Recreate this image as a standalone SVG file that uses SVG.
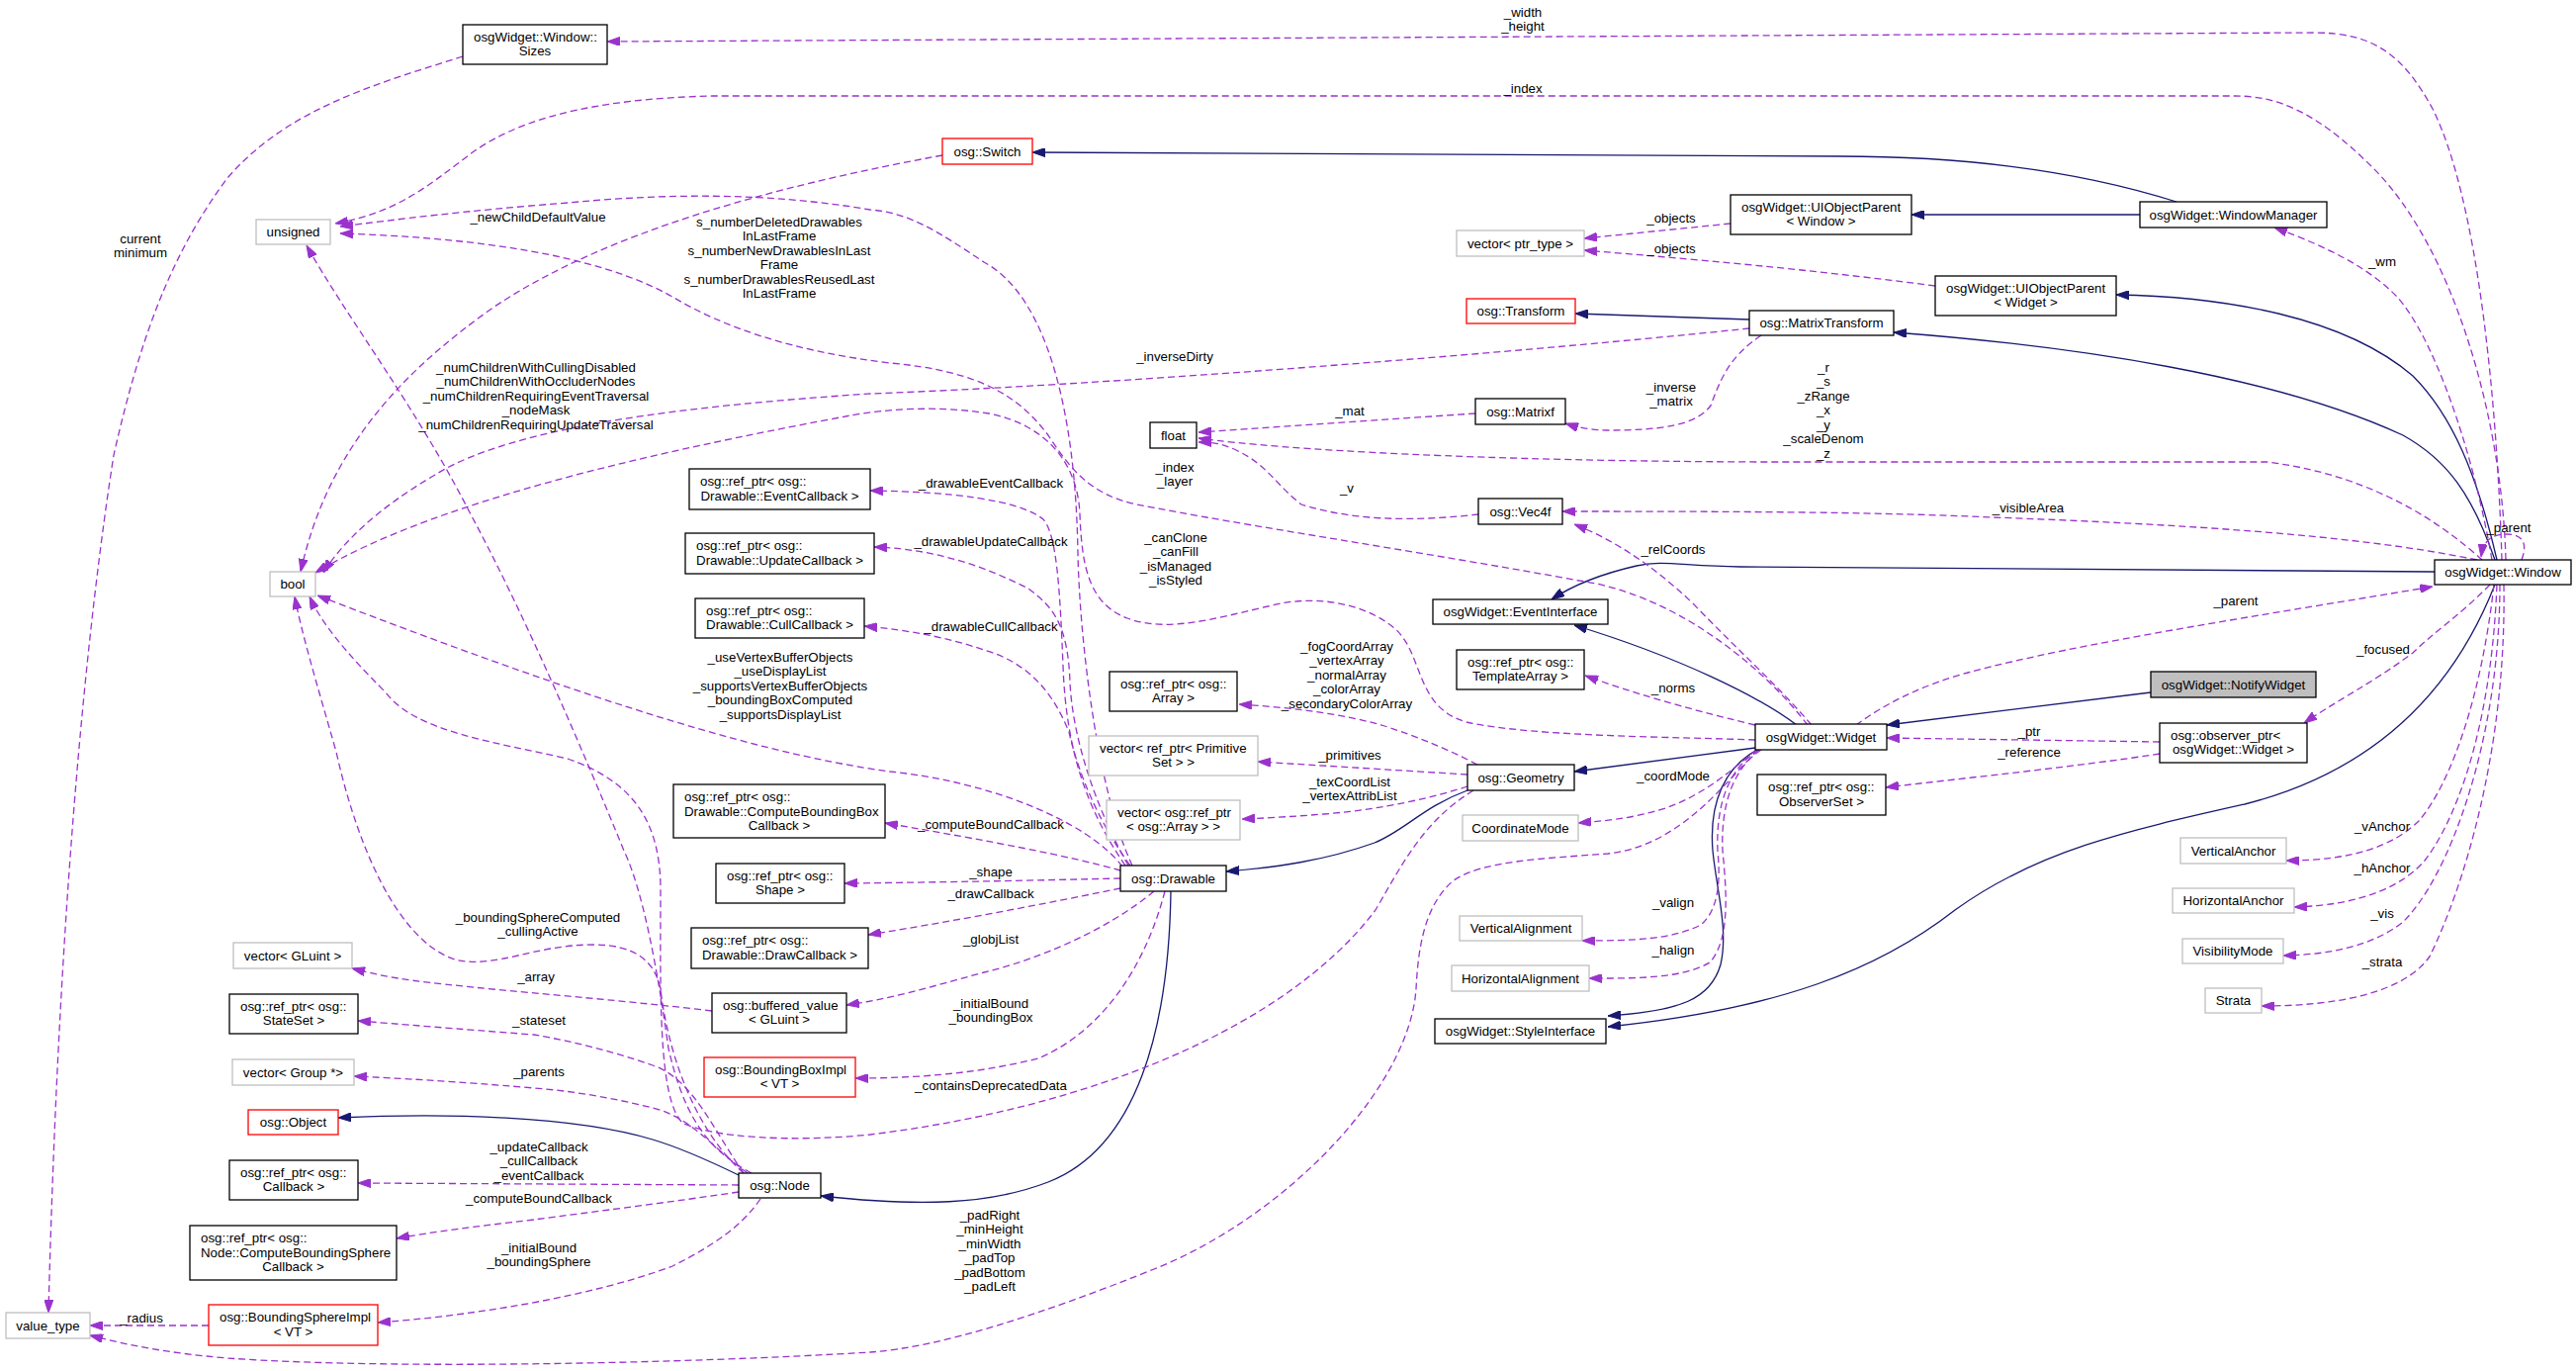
<svg xmlns="http://www.w3.org/2000/svg" width="2605" height="1386" viewBox="0 0 2605 1386">
<style>
text{font-family:"Liberation Sans",Arial,Helvetica,sans-serif;font-size:13.3px;fill:#000}
.c{text-anchor:middle}
.n rect{fill:#fff;stroke:#000;stroke-width:1.3}
.g rect{stroke:#bfbfbf}
.r rect{stroke:#ff0000}
.f rect{fill:#bfbfbf}
#edges .e{fill:none;stroke:#9a32cd;stroke-width:1.3;stroke-dasharray:7,4;marker-end:url(#ap)}
#edges .i{fill:none;stroke:#191970;stroke-width:1.3;marker-end:url(#an)}
</style>
<defs>
<marker id="ap" viewBox="0 0 13 9" refX="13" refY="4.5" markerWidth="13" markerHeight="9" markerUnits="userSpaceOnUse" orient="auto"><path d="M0,0 L13,4.5 L0,9 z" fill="#9a32cd" stroke="#9a32cd" stroke-width="1"/></marker>
<marker id="an" viewBox="0 0 13 9" refX="13" refY="4.5" markerWidth="13" markerHeight="9" markerUnits="userSpaceOnUse" orient="auto"><path d="M0,0 L13,4.5 L0,9 z" fill="#191970" stroke="#191970" stroke-width="1"/></marker>
</defs>
<rect x="0" y="0" width="2605" height="1386" fill="#fff"/>
<g id="edges">
<path class="i" d="M2201,204 C2100,172 1980,158 1860,158 L1044,154"/>
<path class="i" d="M2164,217 L1933,217"/>
<path class="i" d="M2525,566 C2505,480 2480,420 2440,380 C2370,320 2250,300 2140,298"/>
<path class="i" d="M2523,566 C2500,500 2475,465 2430,440 C2300,380 2100,350 1915,336"/>
<path class="i" d="M1769,323 L1593,317"/>
<path class="i" d="M2462,578 L1760,573 C1700,572 1680,566 1655,572 C1620,580 1590,592 1569,606"/>
<path class="i" d="M1817,733 C1780,705 1700,665 1592,632"/>
<path class="i" d="M2175,700 L1908,733"/>
<path class="i" d="M1777,758 C1745,775 1728,810 1732,860 C1736,900 1748,940 1740,975 C1730,1010 1700,1022 1626,1027"/>
<path class="i" d="M2523,591 C2480,700 2400,780 2270,813 C2150,840 2060,860 1977,920 C1900,980 1800,1020 1626,1038"/>
<path class="i" d="M1484,799 C1440,815 1420,840 1390,852 C1340,870 1290,877 1240,881"/>
<path class="i" d="M1775,756 L1592,780"/>
<path class="i" d="M1184,901 C1182,1040 1150,1160 1060,1195 C1000,1218 930,1220 830,1209"/>
<path class="i" d="M747,1188 C710,1170 680,1158 660,1152 C580,1128 450,1125 342,1130"/>
<path class="e" d="M2530,566 C2525,400 2505,200 2460,110 C2430,55 2400,33 2340,33 L614,42"/>
<path class="e" d="M2534,566 C2530,420 2480,250 2400,170 C2340,110 2300,97 2260,97 L720,97 C600,100 520,120 470,160 C430,190 400,215 339,226"/>
<path class="e" d="M953,157 C800,185 620,230 500,310 C400,380 330,460 304,578"/>
<path class="e" d="M1769,332 C1500,360 1100,390 880,398 C700,410 520,430 440,480 C380,515 345,550 327,579"/>
<path class="e" d="M1135,876 C1100,830 1000,790 900,780 C750,760 550,690 321,602"/>
<path class="e" d="M752,1186 C700,1140 675,1060 668,1000 C662,970 640,955 600,955 C540,955 500,980 460,970 C400,950 360,850 340,760 C320,690 305,640 298,603"/>
<path class="e" d="M1490,799 C1440,830 1420,870 1391,920 C1300,1040 1100,1120 880,1147 C800,1155 720,1150 690,1135 C665,1110 668,1000 668,900 C668,830 640,790 574,767 C500,750 420,740 390,700 C350,660 325,630 313,603"/>
<path class="e" d="M1775,748 C1700,745 1550,745 1483,730 C1430,715 1440,660 1410,635 C1380,610 1330,600 1282,613 C1230,625 1180,640 1140,625 C1100,610 1094,570 1092,520 C1090,470 1060,430 1000,418 C950,410 900,413 860,420 C700,450 450,500 319,579"/>
<path class="e" d="M1828,733 C1780,670 1690,600 1597,587 C1450,560 1250,530 1150,510 C1100,500 1080,470 1060,440 C1030,400 990,375 900,367 C800,355 730,330 680,300 C600,255 470,240 344,236"/>
<path class="e" d="M1145,875 C1110,800 1092,650 1090,560 C1088,420 1060,300 995,265 C950,235 920,215 880,212 C780,195 680,195 574,205 C470,213 400,222 344,229"/>
<path class="e" d="M760,1186 C710,1160 690,1120 676,1060 C665,980 650,900 631,860 C590,760 530,620 476,520 C420,410 350,320 310,248"/>
<path class="e" d="M2510,566 C2470,530 2400,480 2292,467 L1780,467 C1500,466 1300,455 1212,443"/>
<path class="e" d="M2505,566 C2380,540 2200,530 2016,523 C1900,518 1800,517 1580,517"/>
<path class="e" d="M1495,520 C1450,525 1380,530 1316,510 C1290,490 1282,470 1250,455 C1235,448 1225,447 1212,447"/>
<path class="e" d="M1492,418 L1212,437"/>
<path class="e" d="M1832,733 C1795,690 1760,660 1712,610 C1670,570 1630,545 1592,530"/>
<path class="e" d="M1750,226 L1602,241"/>
<path class="e" d="M1957,289 C1850,275 1750,265 1602,253"/>
<path class="e" d="M1781,339 C1750,360 1741,380 1730,410 C1715,430 1680,435 1626,435 C1610,435 1595,432 1583,428"/>
<path class="e" d="M2520,566 C2500,450 2460,340 2424,300 C2390,265 2340,245 2300,230"/>
<path class="e" d="M2550,566 C2556,550 2552,540 2535,540 C2518,540 2511,548 2509,563"/>
<path class="e" d="M1877,733 C1905,712 1945,692 1990,680 C2100,650 2300,620 2460,593"/>
<path class="e" d="M2518,591 C2490,620 2460,640 2440,660 C2400,690 2360,710 2330,731"/>
<path class="e" d="M2184,750 L1908,746"/>
<path class="e" d="M2184,762 C2100,775 2000,785 1907,796"/>
<path class="e" d="M2522,591 C2510,700 2480,790 2446,830 C2420,855 2380,870 2312,870"/>
<path class="e" d="M2525,591 C2520,720 2490,820 2452,870 C2430,895 2390,915 2320,917"/>
<path class="e" d="M2528,591 C2528,750 2475,890 2429,933 C2400,955 2360,965 2309,966"/>
<path class="e" d="M2532,591 C2535,760 2490,900 2457,967 C2430,1005 2360,1017 2287,1017"/>
<path class="e" d="M1776,758 C1750,780 1720,805 1684,817 C1650,828 1620,830 1596,832"/>
<path class="e" d="M1779,758 C1750,775 1735,810 1737,860 C1740,890 1738,920 1720,935 C1690,950 1650,951 1600,951"/>
<path class="e" d="M1781,758 C1752,777 1740,815 1742,860 C1746,900 1750,950 1729,973 C1700,990 1650,989 1607,989"/>
<path class="e" d="M1775,733 C1700,715 1650,700 1603,683"/>
<path class="e" d="M1778,758 C1745,790 1700,855 1626,863 C1560,868 1500,870 1470,890 C1440,915 1434,960 1432,1000 C1425,1100 1300,1230 1167,1283 C1050,1330 950,1362 880,1367 C700,1378 400,1385 230,1373 C170,1368 130,1360 91,1350"/>
<path class="e" d="M1494,773 C1460,755 1420,740 1397,733 C1350,720 1300,715 1253,712"/>
<path class="e" d="M1484,783 L1272,770"/>
<path class="e" d="M1484,795 C1450,806 1400,818 1339,823 C1300,826 1280,827 1256,828"/>
<path class="e" d="M1138,875 C1100,820 1078,760 1075,673 C1072,600 1069,540 1055,525 C1030,505 960,497 880,496"/>
<path class="e" d="M1141,875 C1110,820 1085,750 1082,690 C1080,630 1064,613 1040,595 C1000,575 950,555 884,553"/>
<path class="e" d="M1143,875 C1110,830 1090,780 1081,740 C1065,700 1040,670 995,657 C960,645 920,637 874,633"/>
<path class="e" d="M1133,880 C1080,865 1000,850 895,832"/>
<path class="e" d="M1133,888 C1050,890 950,892 854,893"/>
<path class="e" d="M1133,898 C1050,915 960,932 878,945"/>
<path class="e" d="M1167,901 C1120,940 1050,970 995,983 C940,998 900,1010 856,1016"/>
<path class="e" d="M1178,901 C1160,970 1120,1040 1050,1070 C990,1085 930,1090 865,1090"/>
<path class="e" d="M720,1022 C620,1010 520,1003 450,995 C400,990 380,985 356,979"/>
<path class="e" d="M752,1186 C720,1140 700,1090 660,1077 C620,1063 580,1053 540,1046 C460,1040 400,1035 362,1032"/>
<path class="e" d="M756,1186 C720,1160 700,1130 660,1120 C620,1110 580,1103 540,1100 C460,1093 400,1090 358,1088"/>
<path class="e" d="M747,1198 L362,1196"/>
<path class="e" d="M747,1205 C680,1215 600,1225 540,1233 C480,1240 440,1245 401,1252"/>
<path class="e" d="M769,1212 C750,1240 720,1260 680,1280 C600,1310 480,1330 382,1337"/>
<path class="e" d="M211,1340 L91,1340"/>
<path class="e" d="M468,57 C380,85 290,110 230,180 C170,260 140,350 115,460 C90,620 60,900 49,1327"/>
</g>
<g id="edge-labels" class="c">
<text class="c" x="142" y="245.5"><tspan x="142">current</tspan><tspan x="142" dy="14.5">minimum</tspan></text>
<text class="c" x="544" y="223.5">_newChildDefaultValue</text>
<text class="c" x="788" y="228.5"><tspan x="788">s_numberDeletedDrawables</tspan><tspan x="788" dy="14.5">InLastFrame</tspan><tspan x="788" dy="14.5">s_numberNewDrawablesInLast</tspan><tspan x="788" dy="14.5">Frame</tspan><tspan x="788" dy="14.5">s_numberDrawablesReusedLast</tspan><tspan x="788" dy="14.5">InLastFrame</tspan></text>
<text class="c" x="542" y="375.5"><tspan x="542">_numChildrenWithCullingDisabled</tspan><tspan x="542" dy="14.5">_numChildrenWithOccluderNodes</tspan><tspan x="542" dy="14.5">_numChildrenRequiringEventTraversal</tspan><tspan x="542" dy="14.5">_nodeMask</tspan><tspan x="542" dy="14.5">_numChildrenRequiringUpdateTraversal</tspan></text>
<text class="c" x="1540" y="16.5"><tspan x="1540">_width</tspan><tspan x="1540" dy="14.5">_height</tspan></text>
<text class="c" x="1540" y="93.5">_index</text>
<text class="c" x="1690" y="224.5">_objects</text>
<text class="c" x="1690" y="255.5">_objects</text>
<text class="c" x="1188" y="364.5">_inverseDirty</text>
<text class="c" x="1365" y="419.5">_mat</text>
<text class="c" x="1690" y="395.5"><tspan x="1690">_inverse</tspan><tspan x="1690" dy="14.5">_matrix</tspan></text>
<text class="c" x="2409" y="268.5">_wm</text>
<text class="c" x="1844" y="375.5"><tspan x="1844">_r</tspan><tspan x="1844" dy="14.5">_s</tspan><tspan x="1844" dy="14.5">_zRange</tspan><tspan x="1844" dy="14.5">_x</tspan><tspan x="1844" dy="14.5">_y</tspan><tspan x="1844" dy="14.5">_scaleDenom</tspan><tspan x="1844" dy="14.5">_z</tspan></text>
<text class="c" x="1188" y="476.5"><tspan x="1188">_index</tspan><tspan x="1188" dy="14.5">_layer</tspan></text>
<text class="c" x="1362" y="497.5">_v</text>
<text class="c" x="1692" y="559.5">_relCoords</text>
<text class="c" x="1002" y="492.5">_drawableEventCallback</text>
<text class="c" x="1002" y="551.5">_drawableUpdateCallback</text>
<text class="c" x="1189" y="547.5"><tspan x="1189">_canClone</tspan><tspan x="1189" dy="14.5">_canFill</tspan><tspan x="1189" dy="14.5">_isManaged</tspan><tspan x="1189" dy="14.5">_isStyled</tspan></text>
<text class="c" x="1002" y="637.5">_drawableCullCallback</text>
<text class="c" x="789" y="668.5"><tspan x="789">_useVertexBufferObjects</tspan><tspan x="789" dy="14.5">_useDisplayList</tspan><tspan x="789" dy="14.5">_supportsVertexBufferObjects</tspan><tspan x="789" dy="14.5">_boundingBoxComputed</tspan><tspan x="789" dy="14.5">_supportsDisplayList</tspan></text>
<text class="c" x="1362" y="657.5"><tspan x="1362">_fogCoordArray</tspan><tspan x="1362" dy="14.5">_vertexArray</tspan><tspan x="1362" dy="14.5">_normalArray</tspan><tspan x="1362" dy="14.5">_colorArray</tspan><tspan x="1362" dy="14.5">_secondaryColorArray</tspan></text>
<text class="c" x="1692" y="699.5">_norms</text>
<text class="c" x="1365" y="767.5">_primitives</text>
<text class="c" x="1365" y="794.5"><tspan x="1365">_texCoordList</tspan><tspan x="1365" dy="14.5">_vertexAttribList</tspan></text>
<text class="c" x="1002" y="837.5">_computeBoundCallback</text>
<text class="c" x="1692" y="788.5">_coordMode</text>
<text class="c" x="1002" y="885.5">_shape</text>
<text class="c" x="1002" y="907.5">_drawCallback</text>
<text class="c" x="1692" y="916.5">_valign</text>
<text class="c" x="1002" y="953.5">_globjList</text>
<text class="c" x="1692" y="964.5">_halign</text>
<text class="c" x="1002" y="1018.5"><tspan x="1002">_initialBound</tspan><tspan x="1002" dy="14.5">_boundingBox</tspan></text>
<text class="c" x="1002" y="1101.5">_containsDeprecatedData</text>
<text class="c" x="1001" y="1232.5"><tspan x="1001">_padRight</tspan><tspan x="1001" dy="14.5">_minHeight</tspan><tspan x="1001" dy="14.5">_minWidth</tspan><tspan x="1001" dy="14.5">_padTop</tspan><tspan x="1001" dy="14.5">_padBottom</tspan><tspan x="1001" dy="14.5">_padLeft</tspan></text>
<text class="c" x="544" y="931.5"><tspan x="544">_boundingSphereComputed</tspan><tspan x="544" dy="14.5">_cullingActive</tspan></text>
<text class="c" x="542" y="991.5">_array</text>
<text class="c" x="545" y="1035.5">_stateset</text>
<text class="c" x="545" y="1087.5">_parents</text>
<text class="c" x="545" y="1163.5"><tspan x="545">_updateCallback</tspan><tspan x="545" dy="14.5">_cullCallback</tspan><tspan x="545" dy="14.5">_eventCallback</tspan></text>
<text class="c" x="545" y="1215.5">_computeBoundCallback</text>
<text class="c" x="545" y="1265.5"><tspan x="545">_initialBound</tspan><tspan x="545" dy="14.5">_boundingSphere</tspan></text>
<text class="c" x="143" y="1336.5">_radius</text>
<text class="c" x="2051" y="517.5">_visibleArea</text>
<text class="c" x="2537" y="537.5">_parent</text>
<text class="c" x="2261" y="611.5">_parent</text>
<text class="c" x="2410" y="660.5">_focused</text>
<text class="c" x="2052" y="743.5">_ptr</text>
<text class="c" x="2052" y="764.5">_reference</text>
<text class="c" x="2409" y="839.5">_vAnchor</text>
<text class="c" x="2409" y="881.5">_hAnchor</text>
<text class="c" x="2409" y="927.5">_vis</text>
<text class="c" x="2409" y="976.5">_strata</text>
</g>
<g id="sizes" class="n"><rect x="468" y="25" width="146" height="40"/><text x="479" y="41.5">osgWidget::Window::</text><text class="c" x="541" y="56">Sizes</text></g>
<g id="unsigned" class="n g"><rect x="259" y="222" width="75" height="25"/><text class="c" x="296.5" y="239">unsigned</text></g>
<g id="bool" class="n g"><rect x="273" y="578" width="46" height="25"/><text class="c" x="296" y="595">bool</text></g>
<g id="evcb" class="n"><rect x="697" y="474" width="183" height="41"/><text x="708" y="490.5">osg::ref_ptr&lt; osg::</text><text class="c" x="788.5" y="505.5">Drawable::EventCallback &gt;</text></g>
<g id="updcb" class="n"><rect x="693" y="539" width="191" height="41"/><text x="704" y="555.5">osg::ref_ptr&lt; osg::</text><text class="c" x="788.5" y="570.5">Drawable::UpdateCallback &gt;</text></g>
<g id="cullcb" class="n"><rect x="703" y="605" width="171" height="40"/><text x="714" y="621.5">osg::ref_ptr&lt; osg::</text><text class="c" x="788.5" y="636">Drawable::CullCallback &gt;</text></g>
<g id="cbbcb" class="n"><rect x="681" y="793" width="214" height="54"/><text x="692" y="810">osg::ref_ptr&lt; osg::</text><text x="692" y="824.5">Drawable::ComputeBoundingBox</text><text class="c" x="788" y="839">Callback &gt;</text></g>
<g id="shape" class="n"><rect x="724" y="873" width="130" height="40"/><text x="735" y="889.5">osg::ref_ptr&lt; osg::</text><text class="c" x="789" y="904">Shape &gt;</text></g>
<g id="drawcb" class="n"><rect x="699" y="938" width="179" height="41"/><text x="710" y="954.5">osg::ref_ptr&lt; osg::</text><text class="c" x="788.5" y="969.5">Drawable::DrawCallback &gt;</text></g>
<g id="bufval" class="n"><rect x="720" y="1004" width="136" height="40"/><text x="731" y="1020.5">osg::buffered_value</text><text class="c" x="788" y="1035">&lt; GLuint &gt;</text></g>
<g id="bbimpl" class="n r"><rect x="712" y="1069" width="153" height="40"/><text x="723" y="1085.5">osg::BoundingBoxImpl</text><text class="c" x="788.5" y="1100">&lt; VT &gt;</text></g>
<g id="vecgluint" class="n g"><rect x="236" y="953" width="120" height="26"/><text class="c" x="296" y="970.5">vector&lt; GLuint &gt;</text></g>
<g id="stateset" class="n"><rect x="232" y="1005" width="130" height="40"/><text x="243" y="1021.5">osg::ref_ptr&lt; osg::</text><text class="c" x="297" y="1036">StateSet &gt;</text></g>
<g id="vecgroup" class="n g"><rect x="235" y="1071" width="123" height="26"/><text class="c" x="296.5" y="1088.5">vector&lt; Group *&gt;</text></g>
<g id="object" class="n r"><rect x="251" y="1122" width="91" height="25"/><text class="c" x="296.5" y="1139">osg::Object</text></g>
<g id="callback" class="n"><rect x="232" y="1173" width="130" height="40"/><text x="243" y="1189.5">osg::ref_ptr&lt; osg::</text><text class="c" x="297" y="1204">Callback &gt;</text></g>
<g id="node" class="n"><rect x="747" y="1186" width="83" height="25"/><text class="c" x="788.5" y="1203">osg::Node</text></g>
<g id="cbscb" class="n"><rect x="192" y="1239" width="209" height="55"/><text x="203" y="1256">osg::ref_ptr&lt; osg::</text><text x="203" y="1270.5">Node::ComputeBoundingSphere</text><text class="c" x="296.5" y="1285">Callback &gt;</text></g>
<g id="valuetype" class="n g"><rect x="6" y="1327" width="85" height="26"/><text class="c" x="48.5" y="1344.5">value_type</text></g>
<g id="bsimpl" class="n r"><rect x="211" y="1319" width="171" height="41"/><text x="222" y="1335.5">osg::BoundingSphereImpl</text><text class="c" x="296.5" y="1350.5">&lt; VT &gt;</text></g>
<g id="switch" class="n r"><rect x="953" y="140" width="91" height="26"/><text class="c" x="998.5" y="157.5">osg::Switch</text></g>
<g id="vecptr" class="n g"><rect x="1473" y="233" width="129" height="26"/><text class="c" x="1537.5" y="250.5">vector&lt; ptr_type &gt;</text></g>
<g id="transform" class="n r"><rect x="1483" y="302" width="110" height="25"/><text class="c" x="1538" y="319">osg::Transform</text></g>
<g id="matrixf" class="n"><rect x="1492" y="403" width="91" height="26"/><text class="c" x="1537.5" y="420.5">osg::Matrixf</text></g>
<g id="float" class="n"><rect x="1163" y="427" width="47" height="26"/><text class="c" x="1186.5" y="444.5">float</text></g>
<g id="vec4f" class="n"><rect x="1495" y="504" width="85" height="26"/><text class="c" x="1537.5" y="521.5">osg::Vec4f</text></g>
<g id="eventif" class="n"><rect x="1449" y="606" width="177" height="25"/><text class="c" x="1537.5" y="623">osgWidget::EventInterface</text></g>
<g id="templarr" class="n"><rect x="1473" y="657" width="129" height="40"/><text x="1484" y="673.5">osg::ref_ptr&lt; osg::</text><text class="c" x="1537.5" y="688">TemplateArray &gt;</text></g>
<g id="array" class="n"><rect x="1122" y="679" width="129" height="40"/><text x="1133" y="695.5">osg::ref_ptr&lt; osg::</text><text class="c" x="1186.5" y="710">Array &gt;</text></g>
<g id="vecprim" class="n g"><rect x="1101" y="744" width="171" height="40"/><text x="1112" y="760.5">vector&lt; ref_ptr&lt; Primitive</text><text class="c" x="1186.5" y="775">Set &gt; &gt;</text></g>
<g id="geometry" class="n"><rect x="1484" y="773" width="108" height="26"/><text class="c" x="1538" y="790.5">osg::Geometry</text></g>
<g id="vecarr" class="n g"><rect x="1119" y="809" width="135" height="40"/><text x="1130" y="825.5">vector&lt; osg::ref_ptr</text><text class="c" x="1186.5" y="840">&lt; osg::Array &gt; &gt;</text></g>
<g id="coordmode" class="n g"><rect x="1479" y="824" width="117" height="26"/><text class="c" x="1537.5" y="841.5">CoordinateMode</text></g>
<g id="drawable" class="n"><rect x="1133" y="875" width="107" height="26"/><text class="c" x="1186.5" y="892.5">osg::Drawable</text></g>
<g id="valign" class="n g"><rect x="1476" y="926" width="124" height="25"/><text class="c" x="1538" y="943">VerticalAlignment</text></g>
<g id="halign" class="n g"><rect x="1468" y="976" width="139" height="26"/><text class="c" x="1537.5" y="993.5">HorizontalAlignment</text></g>
<g id="styleif" class="n"><rect x="1451" y="1030" width="173" height="25"/><text class="c" x="1537.5" y="1047">osgWidget::StyleInterface</text></g>
<g id="uiopwin" class="n"><rect x="1750" y="197" width="183" height="40"/><text x="1761" y="213.5">osgWidget::UIObjectParent</text><text class="c" x="1841.5" y="228">&lt; Window &gt;</text></g>
<g id="wm" class="n"><rect x="2164" y="204" width="189" height="26"/><text class="c" x="2258.5" y="221.5">osgWidget::WindowManager</text></g>
<g id="uiopwid" class="n"><rect x="1957" y="279" width="183" height="40"/><text x="1968" y="295.5">osgWidget::UIObjectParent</text><text class="c" x="2048.5" y="310">&lt; Widget &gt;</text></g>
<g id="mtrans" class="n"><rect x="1769" y="314" width="146" height="25"/><text class="c" x="1842" y="331">osg::MatrixTransform</text></g>
<g id="window" class="n"><rect x="2462" y="566" width="138" height="25"/><text class="c" x="2531" y="583">osgWidget::Window</text></g>
<g id="notify" class="n f"><rect x="2175" y="679" width="167" height="26"/><text class="c" x="2258.5" y="696.5">osgWidget::NotifyWidget</text></g>
<g id="observer" class="n"><rect x="2184" y="731" width="149" height="40"/><text x="2195" y="747.5">osg::observer_ptr&lt;</text><text class="c" x="2258.5" y="762">osgWidget::Widget &gt;</text></g>
<g id="widget" class="n"><rect x="1775" y="732" width="133" height="26"/><text class="c" x="1841.5" y="749.5">osgWidget::Widget</text></g>
<g id="obsset" class="n"><rect x="1777" y="783" width="130" height="41"/><text x="1788" y="799.5">osg::ref_ptr&lt; osg::</text><text class="c" x="1842" y="814.5">ObserverSet &gt;</text></g>
<g id="vanchor" class="n g"><rect x="2205" y="847" width="107" height="26"/><text class="c" x="2258.5" y="864.5">VerticalAnchor</text></g>
<g id="hanchor" class="n g"><rect x="2197" y="898" width="123" height="25"/><text class="c" x="2258.5" y="915">HorizontalAnchor</text></g>
<g id="vismode" class="n g"><rect x="2207" y="949" width="102" height="25"/><text class="c" x="2258" y="966">VisibilityMode</text></g>
<g id="strata" class="n g"><rect x="2230" y="999" width="57" height="25"/><text class="c" x="2258.5" y="1016">Strata</text></g>
</svg>
